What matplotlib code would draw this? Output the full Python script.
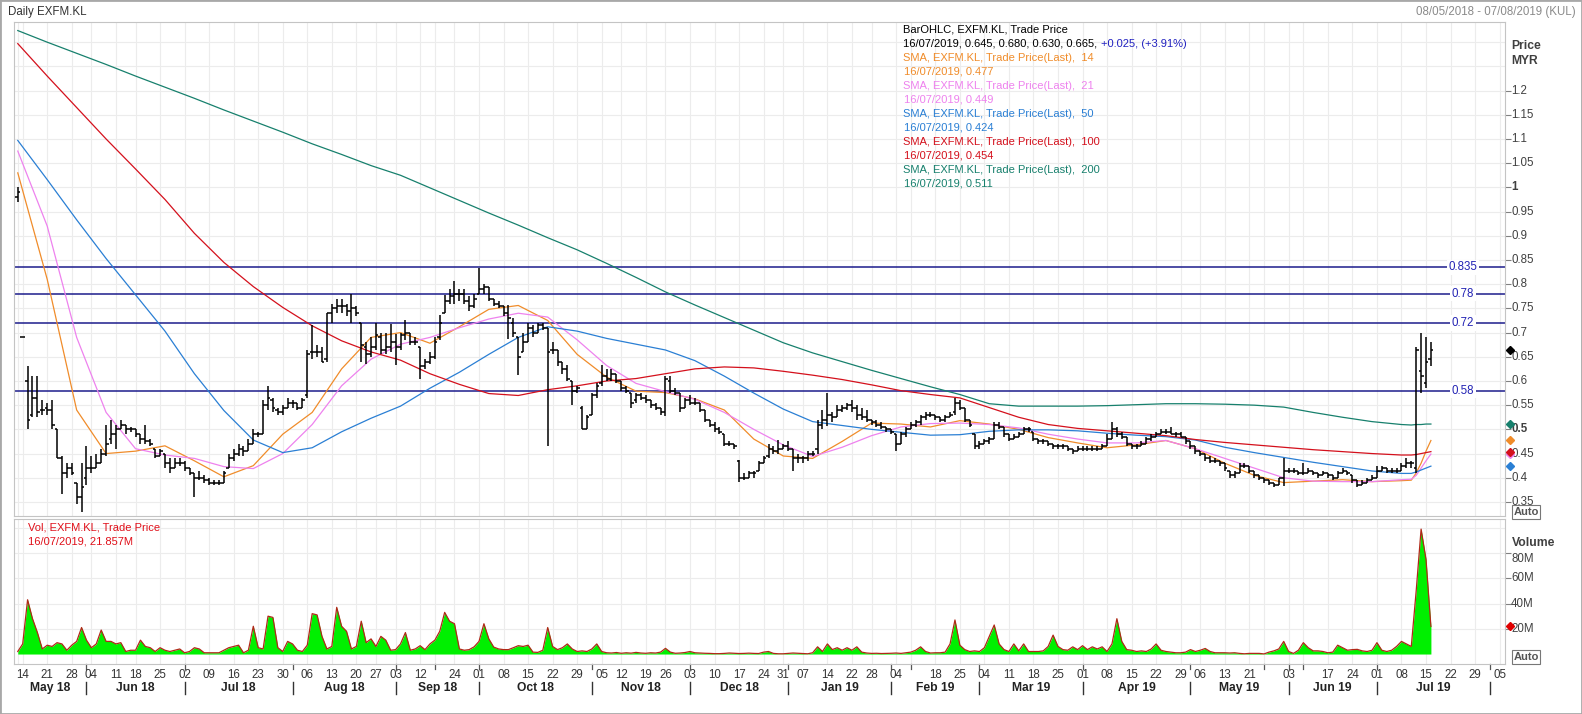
import numpy as np
import pandas as pd
import matplotlib
matplotlib.use('Agg')
import matplotlib.pyplot as plt
from matplotlib.patches import Rectangle

plt.rcParams['font.family'] = ['Liberation Sans', 'DejaVu Sans']

# Bursa Malaysia market holidays inside the window
holidays = ['2018-05-09', '2018-05-10', '2018-05-11', '2018-05-29', '2018-06-15',
            '2018-08-22', '2018-08-31', '2018-09-10', '2018-09-11', '2018-09-17',
            '2018-11-06', '2018-11-20', '2018-12-25', '2019-01-01', '2019-01-21',
            '2019-02-05', '2019-02-06', '2019-05-01', '2019-05-20', '2019-05-22',
            '2019-06-05', '2019-06-06']

# daily OHLC, one line per month (May 2018 .. Jul 2019)
opens = [
    .98, .69, .60, .53, .565, .54, .545, .54, .50, .44, .41, .42, .39, .36,
    .40, .42, .42, .43, .45, .48, .49, .50, .51, .50, .50, .49, .48, .475, .46, .445, .45, .43, .42, .43,
    .43, .42, .41, .40, .40, .395, .39, .39, .39, .42, .44, .45, .46, .455, .47, .49, .49, .55, .56, .54, .535, .545,
    .555, .555, .545, .57, .66, .66, .66, .645, .74, .75, .755, .755, .745, .75, .72, .67, .655, .67, .69, .665, .67,
    .68, .67, .695, .70, .68, .67, .63, .64, .65, .69, .74, .765, .775, .78, .78, .765, .755,
    .78, .79, .795, .77, .76, .755, .74, .72, .69, .66, .68, .71, .70, .715, .71, .665, .665, .64, .625, .60, .58, .545, .50,
    .53, .57, .595, .61, .605, .615, .60, .585, .575, .56, .57, .565, .56, .55, .545, .535, .60, .58, .575, .545,
    .56, .555, .555, .54, .52, .51, .50, .49, .47, .47, .435, .40, .40, .41, .415, .43, .445, .46, .455, .46,
    .465, .46, .44, .44, .44, .45, .46, .51, .52, .53, .525, .54, .545, .55, .545, .53, .525, .52, .515, .51, .505,
    .50, .49, .47, .49, .50, .51, .515, .525, .53, .53, .525, .52, .525, .535, .555, .545, .52, .49,
    .465, .47, .475, .48, .51, .505, .49, .48, .485, .49, .50, .495, .48, .475, .475, .47, .465, .465, .465, .46, .455,
    .46, .46, .46, .46, .46, .465, .48, .50, .49, .485, .47, .465, .465, .47, .48, .485, .49, .495, .495, .49, .49, .485,
    .475, .465, .455, .45, .44, .435, .435, .43, .415, .405, .41, .425, .425, .415, .405, .40, .395, .39, .385, .40,
    .415, .415, .415, .41, .41, .415, .41, .405, .41, .405, .40, .41, .415, .405, .395, .385, .39, .395,
    .40, .415, .42, .415, .415, .415, .425, .43, .42, .62, .595, .645,
]
highs = [
    1.00, .69, .63, .61, .61, .56, .555, .56, .50, .445, .43, .43, .39, .43,
    .465, .445, .45, .46, .51, .52, .51, .52, .51, .505, .50, .49, .51, .48, .46, .46, .45, .44, .44, .44,
    .435, .42, .41, .415, .405, .40, .395, .395, .415, .45, .46, .47, .465, .48, .50, .495, .56, .59, .565, .545, .55, .565,
    .56, .555, .565, .665, .715, .675, .67, .74, .76, .77, .77, .76, .78, .755, .72, .68, .69, .72, .70, .70, .718,
    .697, .70, .726, .70, .69, .67, .645, .66, .69, .737, .778, .79, .807, .79, .79, .775, .78,
    .833, .80, .795, .77, .765, .755, .757, .73, .69, .70, .72, .715, .72, .72, .71, .68, .665, .64, .632, .60, .59, .548, .53,
    .575, .595, .634, .625, .625, .615, .60, .59, .576, .575, .575, .57, .56, .555, .545, .61, .61, .585, .575, .565,
    .57, .565, .555, .54, .52, .515, .505, .49, .475, .47, .436, .41, .415, .415, .435, .445, .47, .465, .478, .47,
    .475, .46, .45, .445, .455, .455, .52, .54, .576, .535, .55, .55, .555, .56, .55, .545, .54, .52, .52, .515, .505,
    .50, .49, .495, .505, .515, .52, .53, .535, .535, .53, .525, .53, .535, .565, .56, .545, .52, .49,
    .475, .48, .485, .515, .515, .505, .49, .49, .495, .505, .505, .495, .48, .48, .475, .47, .47, .47, .465, .46, .465,
    .465, .465, .465, .465, .47, .49, .515, .505, .495, .485, .47, .47, .475, .485, .49, .495, .50, .50, .505, .495, .495, .485,
    .475, .465, .455, .45, .445, .44, .435, .43, .415, .415, .43, .43, .425, .415, .405, .40, .395, .39, .40, .44,
    .42, .42, .415, .43, .42, .415, .41, .415, .41, .405, .415, .42, .415, .405, .395, .395, .40, .405,
    .425, .425, .42, .42, .42, .43, .44, .435, .67, .70, .69, .68,
]
lows = [
    .97, .69, .50, .525, .525, .53, .53, .50, .44, .367, .40, .405, .345, .33,
    .385, .41, .42, .43, .445, .47, .46, .50, .49, .495, .485, .47, .47, .465, .44, .445, .42, .41, .42, .425,
    .415, .405, .36, .395, .39, .385, .385, .385, .39, .42, .435, .445, .445, .455, .47, .485, .49, .54, .535, .53, .53, .545,
    .545, .54, .545, .565, .645, .65, .64, .64, .72, .74, .74, .735, .72, .735, .64, .635, .65, .665, .655, .655, .66,
    .634, .665, .684, .675, .675, .605, .625, .635, .645, .685, .74, .76, .76, .765, .76, .745, .75,
    .78, .78, .765, .755, .75, .735, .686, .69, .613, .66, .68, .69, .70, .705, .465, .655, .63, .615, .60, .55, .575, .50, .50,
    .53, .565, .59, .60, .60, .595, .58, .575, .545, .555, .56, .555, .545, .54, .53, .528, .575, .57, .535, .545,
    .55, .55, .535, .515, .505, .495, .49, .465, .465, .46, .392, .395, .40, .40, .415, .43, .44, .45, .45, .46,
    .455, .415, .43, .43, .435, .445, .45, .50, .507, .515, .525, .535, .54, .535, .52, .52, .515, .51, .505, .50, .495,
    .49, .455, .47, .485, .50, .505, .51, .52, .525, .52, .515, .515, .525, .53, .54, .515, .505, .46,
    .46, .47, .47, .48, .50, .485, .475, .48, .485, .49, .495, .475, .47, .47, .465, .46, .46, .46, .455, .45, .455,
    .455, .455, .455, .455, .46, .465, .48, .485, .48, .465, .46, .46, .465, .47, .475, .485, .49, .49, .49, .485, .485, .47,
    .46, .45, .445, .435, .43, .43, .425, .415, .40, .40, .41, .42, .41, .40, .395, .39, .385, .38, .385, .383,
    .41, .41, .405, .405, .41, .405, .40, .405, .40, .395, .40, .41, .405, .39, .38, .385, .39, .395,
    .40, .415, .41, .41, .41, .415, .42, .42, .41, .575, .585, .63,
]
closes = [
    .99, .69, .52, .565, .535, .54, .54, .51, .44, .41, .42, .41, .36, .38,
    .42, .42, .43, .45, .47, .49, .50, .51, .50, .50, .49, .48, .475, .47, .445, .455, .43, .42, .43, .43,
    .42, .41, .40, .40, .395, .39, .39, .39, .41, .44, .45, .46, .455, .47, .49, .49, .55, .565, .545, .535, .545, .555,
    .555, .545, .56, .655, .66, .66, .64, .74, .75, .755, .755, .745, .75, .74, .675, .655, .67, .695, .665, .67, .68,
    .67, .695, .70, .68, .68, .63, .64, .65, .68, .72, .765, .775, .78, .78, .765, .755, .77,
    .79, .795, .77, .76, .755, .74, .73, .70, .65, .68, .71, .70, .715, .71, .66, .665, .64, .625, .605, .58, .585, .50, .525,
    .57, .59, .61, .605, .615, .60, .585, .58, .555, .57, .565, .56, .55, .545, .535, .605, .58, .575, .545, .56,
    .555, .555, .54, .52, .51, .50, .495, .47, .47, .465, .40, .40, .41, .41, .43, .44, .46, .455, .46, .465,
    .46, .44, .44, .44, .45, .45, .51, .52, .53, .525, .54, .545, .55, .545, .53, .525, .52, .515, .51, .505, .50,
    .495, .47, .49, .50, .51, .515, .525, .53, .53, .525, .52, .525, .53, .555, .545, .52, .51, .465,
    .47, .475, .48, .51, .505, .49, .48, .485, .49, .50, .50, .48, .475, .475, .47, .465, .465, .465, .46, .455, .46,
    .46, .46, .46, .46, .465, .48, .50, .49, .485, .47, .465, .465, .47, .48, .485, .49, .495, .495, .49, .49, .485, .475,
    .465, .455, .45, .44, .435, .435, .43, .42, .405, .41, .425, .425, .415, .405, .40, .395, .39, .385, .40, .415,
    .415, .415, .41, .41, .415, .41, .405, .41, .405, .40, .41, .415, .41, .395, .385, .39, .395, .40,
    .415, .42, .415, .415, .415, .425, .43, .43, .665, .61, .64, .665,
]
# volume in millions
volume = [
    2, 8, 43, 28, 17, 4, 7, 6, 9, 8, 3, 7, 10, 21,
    11, 5, 8, 19, 10, 10, 8, 9, 2, 3, 3, 11, 6, 5, 2, 5, 3, 2, 3, 4,
    1, 2, 5, 4, 1, 1, 1, 1, 3, 5, 6, 7, 1, 3, 22, 5, 4, 30, 29, 5, 2, 10,
    8, 3, 2, 7, 32, 31, 14, 4, 6, 37, 22, 18, 4, 6, 26, 9, 12, 6, 14, 11, 3,
    3.5, 8, 17, 3, 4, 6.6, 3.5, 8, 11, 18, 33, 26, 24, 4, 3, 3.5, 5.7,
    10, 24, 12, 5.5, 4, 3.5, 3.5, 5, 6.6, 6, 7, 1.5, 1.3, 3, 21, 6, 3.5, 5, 8, 4, 2, 2.5, 2,
    4, 8, 2, 1, 0.8, 1.2, 0.6, 1, 0.7, 1.3, 0.8, 0.6, 1, 0.8, 1.5, 4.5, 1.5, 0.6, 0.8, 1.2,
    2, 1, 0.8, 0.6, 0.5, 0.3, 0.3, 0.5, 0.8, 0.6, 0.4, 0.5, 0.7, 0.5, 0.4, 1.5, 2, 0.5, 0.2, 0.2,
    0.5, 0.8, 0.6, 0.4, 0.2, 1, 5.7, 2, 8, 3.5, 5, 3, 5, 3, 5.7, 1.5, 0.8, 0.5, 0.6, 0.4, 0.5,
    0.6, 0.8, 0.5, 1, 1.5, 3, 5.7, 2, 0.8, 1, 1, 1.5, 8, 27, 7, 3.5, 2, 2.5,
    2, 5, 14, 23, 8, 3.5, 2, 8, 2.5, 8, 2, 2, 2, 2.5, 6, 15, 6, 3.5, 3, 5.7, 3.5,
    6.6, 3.5, 5.7, 4, 5.7, 2, 8, 28, 10, 3.5, 3, 2, 2.5, 2, 4, 8, 3, 2, 1.5, 1, 1, 1.5,
    3.5, 2, 3, 4.4, 2, 1, 1, 1, 0.8, 1, 0.5, 0.2, 0.5, 0.5, 0.5, 0.1, 1.5, 2.5, 4, 10,
    2, 0.5, 3, 9, 5, 2.5, 2.5, 2, 1, 1.5, 7, 5, 3, 3.5, 3.7, 2.5, 2, 3,
    9, 3, 2, 3, 6, 10, 8, 6, 50, 99, 75, 21.857,
]

# moving averages every 6th bar, plus the last days
sma_idx = list(range(0, 283, 6)) + [284, 285, 286, 287, 288]
sma14 = [1.03, 0.81, 0.54, 0.45, 0.455, 0.466, 0.435, 0.402, 0.425, 0.49,
         0.535, 0.625, 0.69, 0.70, 0.678, 0.712, 0.748, 0.756, 0.725, 0.655,
         0.608, 0.579, 0.576, 0.563, 0.54, 0.48, 0.445, 0.44, 0.475, 0.513,
         0.511, 0.505, 0.518, 0.511, 0.50, 0.483, 0.472, 0.462, 0.468, 0.477,
         0.46, 0.43, 0.405, 0.39, 0.393, 0.396, 0.392, 0.394,
         0.395, 0.41, 0.43, 0.455, 0.477]
sma21 = [1.075, 0.92, 0.69, 0.535, 0.46, 0.447, 0.44, 0.423, 0.419, 0.45,
         0.51, 0.59, 0.645, 0.676, 0.69, 0.71, 0.728, 0.74, 0.732, 0.685,
         0.632, 0.595, 0.578, 0.562, 0.535, 0.50, 0.468, 0.444, 0.463, 0.487,
         0.505, 0.512, 0.513, 0.51, 0.503, 0.49, 0.48, 0.472, 0.472, 0.477,
         0.46, 0.44, 0.42, 0.40, 0.393, 0.392, 0.392, 0.396,
         0.397, 0.405, 0.42, 0.435, 0.449]
sma50 = [1.097, 1.016, 0.933, 0.853, 0.778, 0.703, 0.615, 0.539, 0.478, 0.452,
         0.462, 0.495, 0.523, 0.548, 0.585, 0.618, 0.655, 0.69, 0.712, 0.703,
         0.688, 0.676, 0.664, 0.642, 0.61, 0.575, 0.542, 0.516, 0.508, 0.50,
         0.494, 0.488, 0.489, 0.496, 0.499, 0.499, 0.497, 0.492, 0.488, 0.485,
         0.478, 0.463, 0.452, 0.442, 0.432, 0.423, 0.414, 0.409,
         0.409, 0.412, 0.416, 0.42, 0.424]
sma100 = [1.297, 1.23, 1.165, 1.10, 1.038, 0.975, 0.905, 0.845, 0.795, 0.752,
          0.714, 0.683, 0.66, 0.643, 0.615, 0.593, 0.574, 0.57, 0.582, 0.59,
          0.60, 0.605, 0.615, 0.625, 0.629, 0.627, 0.62, 0.612, 0.603, 0.592,
          0.58, 0.572, 0.565, 0.545, 0.525, 0.51, 0.502, 0.497, 0.492, 0.487,
          0.479, 0.473, 0.468, 0.463, 0.458, 0.454, 0.45, 0.447,
          0.447, 0.448, 0.45, 0.452, 0.454]
sma200 = [1.324, 1.30, 1.277, 1.254, 1.23, 1.207, 1.184, 1.16, 1.137, 1.114,
          1.09, 1.068, 1.045, 1.025, 0.999, 0.973, 0.947, 0.922, 0.896, 0.871,
          0.843, 0.814, 0.784, 0.757, 0.731, 0.705, 0.679, 0.658, 0.64, 0.622,
          0.605, 0.588, 0.572, 0.553, 0.548, 0.548, 0.548, 0.549, 0.551, 0.553,
          0.553, 0.552, 0.55, 0.546, 0.535, 0.525, 0.516, 0.51,
          0.509, 0.51, 0.51, 0.511, 0.511]
sma_periods = [14, 21, 50, 100, 200]
sma_colors = ['#f08c2a', '#ee82ee', '#2a7fd4', '#d4101c', '#17806d']

levels = [0.835, 0.78, 0.72, 0.58]
price_ticks = [0.35, 0.4, 0.45, 0.5, 0.55, 0.6, 0.65, 0.7, 0.75, 0.8, 0.85, 0.9,
               0.95, 1.0, 1.05, 1.1, 1.15, 1.2]
vol_ticks = [20, 40, 60, 80]

n = len(closes)
assert len(opens) == len(highs) == len(lows) == len(volume) == n
smas = [sma14, sma21, sma50, sma100, sma200]
for s in smas:
    assert len(s) == len(sma_idx)

days = pd.bdate_range('2018-05-08', '2019-08-09')
days = days[~days.isin(pd.to_datetime(holidays))]
x = np.arange(n)

W, H = 1582, 714
fig = plt.figure(figsize=(W / 100, H / 100), dpi=100)
fig.patch.set_facecolor('white')


def box(l, t, r, b):
    return [l / W, 1 - b / H, (r - l) / W, (b - t) / H]


ax = fig.add_axes(box(14, 22, 1505, 516))
axv = fig.add_axes(box(14, 519, 1505, 664))
x_lo, x_hi = -0.77, 303.1
grid_c = '#ececec'
text_c = '#404040'

# calendar helpers: first trading day of each week / month
cal = pd.Series(np.arange(len(days)), index=days)
cal = cal[cal <= x_hi]
week_starts = cal.groupby(cal.index.to_period('W')).min().values
month_starts = cal.groupby(cal.index.to_period('M')).min().values

for a in (ax, axv):
    a.set_xlim(x_lo, x_hi)
    for w in week_starts:
        a.axvline(w, color=grid_c, lw=0.8, zorder=0)
    for s in a.spines.values():
        s.set_color('#c4c4c4')
        s.set_linewidth(0.8)
    a.tick_params(axis='x', bottom=False, labelbottom=False)
    a.yaxis.tick_right()
    a.tick_params(axis='y', direction='out', length=4, color='#808080',
                  labelright=False, labelleft=False)

# ---- price panel ----
ax.set_ylim(0.321, 1.3417)
for v in np.arange(0.35, 1.31, 0.05):
    ax.axhline(v, color=grid_c, lw=0.8, zorder=0)
ax.set_yticks(price_ticks)

for lvl in levels:
    ax.axhline(lvl, color='#1c1c8c', lw=1.1, zorder=1.5)
    ax.text((1463 - 14) / 1491, lvl, f'{lvl:g}', transform=ax.get_yaxis_transform(),
            ha='center', va='center', color='#2323b4', fontsize=8.3, zorder=4,
            bbox=dict(fc='white', ec='none', pad=1.2))

for s, c in zip(smas, sma_colors):
    ax.plot(sma_idx, s, color=c, lw=0.9, zorder=2)

ax.vlines(x, lows, highs, color='black', lw=1.1, zorder=3)
ax.hlines(opens, x - 0.5, x, color='black', lw=1.1, zorder=3)
ax.hlines(closes, x, x + 0.5, color='black', lw=1.1, zorder=3)

ax_lab_x = 1 + 6 / 1491
for v in price_ticks:
    bold = v in (0.5, 1.0)
    ax.text(ax_lab_x, v, f'{v:g}', transform=ax.get_yaxis_transform(), ha='left',
            va='center', fontsize=8.3, color=text_c,
            fontweight='bold' if bold else 'normal')

dia_x = 1 + 5 / 1491
ax.plot([dia_x], [closes[-1]], marker='D', ms=4.5, color='black',
        transform=ax.get_yaxis_transform(), clip_on=False, zorder=6)
for s, c in zip(smas, sma_colors):
    ax.plot([dia_x], [s[-1]], marker='D', ms=4.5, color=c,
            transform=ax.get_yaxis_transform(), clip_on=False, zorder=6)

# ---- volume panel ----
axv.set_ylim(-7.9, 107)
for v in [20, 40, 60, 80, 100]:
    axv.axhline(v, color=grid_c, lw=0.8, zorder=0)
axv.set_yticks(vol_ticks)
axv.fill_between(x, 0, volume, color='#00f000', lw=0, zorder=2)
axv.plot(x, volume, color='#b02818', lw=0.9, zorder=3)
for v in vol_ticks:
    # the top label sits a little lower, under the "Volume" title
    yv = v - 4.8 if v == vol_ticks[-1] else v
    axv.text(ax_lab_x, yv, f'{v}M', transform=axv.get_yaxis_transform(), ha='left',
             va='center', fontsize=8.3, color=text_c)
axv.plot([dia_x], [volume[-1]], marker='D', ms=4.5, color='#e00000',
         transform=axv.get_yaxis_transform(), clip_on=False, zorder=6)

# ---- date axis ----
tr = axv.get_xaxis_transform()
labelled, unlabelled = [], []
last = -99
for w in week_starts:
    if w < 1:
        continue
    if w - last >= 4:
        labelled.append(w)
        last = w
    else:
        unlabelled.append(w)
for w in labelled:
    axv.text(w, -0.076, days[w].strftime('%d'), transform=tr, ha='center',
             va='center', fontsize=8.3, color='#333333', clip_on=False)
for w in list(month_starts[1:]) + unlabelled:
    axv.plot([w, w], [0, -0.034], transform=tr, color='#555555', lw=0.9,
             clip_on=False)
bounds = [x_lo] + list(month_starts[1:]) + [x_hi]
for i, m in enumerate(month_starts):
    if i > 0:
        axv.plot([m, m], [-0.124, -0.207], transform=tr, color='#333333', lw=1.0,
                 clip_on=False)
    lo, hi = bounds[i], bounds[i + 1]
    if hi - lo >= 10:
        axv.text((lo + hi) / 2, -0.166, days[m].strftime('%b %y'), transform=tr,
                 ha='center', va='center', fontsize=8.7, fontweight='bold',
                 color='#222222', clip_on=False)


# ---- texts ----
def ftext(px, py, s, **kw):
    kw.setdefault('fontsize', 8)
    kw.setdefault('va', 'center')
    return fig.text(px / W, 1 - py / H, s, **kw)


ftext(8, 12, 'Daily EXFM.KL', color='#333333', fontsize=8.3)
ftext(1576, 12, '08/05/2018 - 07/08/2019 (KUL)', color='#8a8a8a', fontsize=8.3, ha='right')
ftext(1511, 46, 'Price', color=text_c, fontsize=8.7, fontweight='bold')
ftext(1511, 61, 'MYR', color=text_c, fontsize=8.7, fontweight='bold')
ftext(1512, 543, 'Volume', color=text_c, fontsize=8.7, fontweight='bold')
for py in (512, 657):
    ftext(1526, py, 'Auto', ha='center', fontsize=8, fontweight='bold', color='#555555',
          bbox=dict(boxstyle='square,pad=0.15', fc='white', ec='#777777', lw=0.8))

last_day = days[n - 1].strftime('%d/%m/%Y')
chg = closes[-1] - closes[-2]
pct = chg / closes[-2] * 100
lx = 903
ftext(lx, 30, 'BarOHLC, EXFM.KL, Trade Price', color='black')
t_ohlc = ftext(lx, 44, f'{last_day}, {opens[-1]:.3f}, {highs[-1]:.3f}, {lows[-1]:.3f}, '
               f'{closes[-1]:.3f},', color='black')
fig.canvas.draw()
ext = t_ohlc.get_window_extent(fig.canvas.get_renderer())
ftext(ext.x1 + 4, 44, f'{chg:+.3f}, ({pct:+.2f}%)', color='#2020c0')
for i, (p, s, c) in enumerate(zip(sma_periods, smas, sma_colors)):
    y0 = 58 + i * 28
    ftext(lx, y0, f'SMA, EXFM.KL, Trade Price(Last),  {p}', color=c)
    ftext(lx + 1, y0 + 14, f'{last_day}, {s[-1]:.3f}', color=c)

ftext(28, 528, 'Vol, EXFM.KL, Trade Price', color='#e0101a')
ftext(28, 542, f'{last_day}, {volume[-1]:.3f}M', color='#e0101a')

fig.add_artist(Rectangle((0, 0), 1, 1, transform=fig.transFigure, fill=False,
                         ec='#a8a8a8', lw=2))

fig.savefig('out.png', dpi=100)
